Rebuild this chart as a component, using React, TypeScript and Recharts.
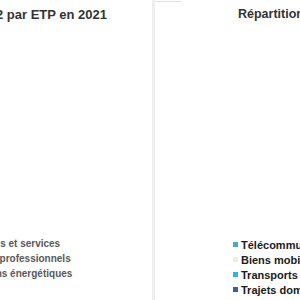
import React from 'react';
import { PieChart, Pie, Cell, Legend } from 'recharts';

// Left chart: emissions per ETP (categories cut off on the left in the reference)
const leftNames = ['Achats de biens et services', 'Déplacements professionnels', 'Consommations énergétiques'];
const leftValues = [5.4, 1.2, 0.8];
const leftColors = ['#4F81BD', '#C0504D', '#9BBB59'];

// Right chart: breakdown
const rightNames = ['Télécommunications', 'Biens mobiliers', 'Transports', 'Trajets domicile-travail'];
const rightValues = [12, 8, 45, 35];
const rightColors = ['#4BA6D0', '#EEECE1', '#38B2DA', '#3F5F91'];

const leftData = leftNames.map((name, i) => ({ name, value: leftValues[i] }));
const rightData = rightNames.map((name, i) => ({ name, value: rightValues[i] }));

const FONT = '"Liberation Sans", Arial, sans-serif';

// keep the legend in data order (recharts sorts it otherwise)
const makeLegend = (names: string[], textColor: string, fontSize: number) => (props: any) => {
  const items = [...(props.payload || [])].sort(
    (a: any, b: any) => names.indexOf(a.value) - names.indexOf(b.value)
  );
  return (
    <div style={{ fontFamily: FONT }}>
      {items.map((entry: any, i: number) => (
        <div key={`leg-${i}`} style={{ display: 'flex', alignItems: 'center', height: 15, whiteSpace: 'nowrap' }}>
          <span style={{ display: 'inline-block', width: 5, height: 5, background: entry.color, marginRight: 3 }} />
          <span style={{ fontSize, fontWeight: 'bold', color: textColor }}>{entry.value}</span>
        </div>
      ))}
    </div>
  );
};

const App: React.FC = () => {
  return (
    <div style={{ position: 'absolute', left: 0, top: 0, width: 300, height: 300, overflow: 'hidden', background: '#fff', fontFamily: FONT }}>
      {/* left chart, mostly outside the crop */}
      <div style={{ position: 'absolute', left: -148, top: 0, width: 300, height: 300 }}>
        <PieChart width={300} height={300}>
          <Pie data={leftData} dataKey="value" nameKey="name" cx={40} cy={130} outerRadius={50} isAnimationActive={false} stroke="#fff">
            {leftData.map((_, i) => (
              <Cell key={`l-${i}`} fill={leftColors[i]} />
            ))}
          </Pie>
          <Legend
            layout="vertical"
            content={makeLegend(leftNames, '#595959', 10)}
            wrapperStyle={{ position: 'absolute', left: 69, top: 236, width: 'auto' }}
          />
        </PieChart>
      </div>
      <div style={{ position: 'absolute', right: 193, top: 7, fontSize: 13, fontWeight: 'bold', color: '#333', whiteSpace: 'nowrap', lineHeight: '15px' }}>
        Emissions de CO2 par ETP en 2021
      </div>

      {/* separator between the two charts */}
      <div style={{ position: 'absolute', left: 152, top: 0, width: 3, height: 300, background: '#eeeeee' }} />
      <div style={{ position: 'absolute', left: 155, top: 1, width: 27, height: 1, background: '#e2e2e2' }} />

      {/* right chart, pie outside the crop */}
      <div style={{ position: 'absolute', left: 155, top: 0, width: 300, height: 300 }}>
        <PieChart width={300} height={300}>
          <Pie data={rightData} dataKey="value" nameKey="name" cx={240} cy={130} outerRadius={50} isAnimationActive={false} stroke="#fff">
            {rightData.map((_, i) => (
              <Cell key={`r-${i}`} fill={rightColors[i]} />
            ))}
          </Pie>
          <Legend
            layout="vertical"
            content={makeLegend(rightNames, '#1a1a1a', 11)}
            wrapperStyle={{ position: 'absolute', left: 78, top: 237, width: 'auto' }}
          />
        </PieChart>
      </div>
      <div style={{ position: 'absolute', left: 238, top: 7, fontSize: 12.5, fontWeight: 'bold', color: '#333', whiteSpace: 'nowrap', lineHeight: '15px' }}>
        Répartition des émissions
      </div>
    </div>
  );
};

export default App;
